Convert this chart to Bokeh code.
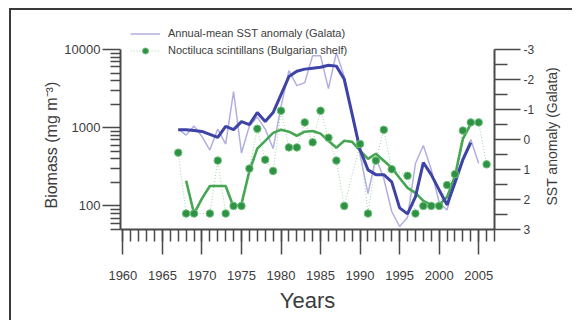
from bokeh.plotting import figure
from bokeh.layouts import row
from bokeh.models import (Range1d, LinearAxis, FixedTicker, Legend, LegendItem,
                          ColumnDataSource, PrintfTickFormatter, LinearScale, Title)
from bokeh.embed import file_html
from bokeh.resources import INLINE

nan = float("nan")

# ---- data ----
noc_years = list(range(1967, 2007))
noc_biomass = [480, 80, 80, nan, 80, 380, 80, 100, 100, 300,
               970, 390, 280, 1650, 560, 560, 1170, 650, 1650, 745,
               380, 100, nan, 620, 80, 380, 940, 295, nan, 243,
               80, 100, 100, 100, 185, 255, 920, 1170, 1170, 340]

noc_smooth_years = list(range(1968, 2006))
noc_smooth = [210, 80, 124, 180, 180, 180, 97, 106, 280, 540,
              680, 860, 940, 890, 790, 890, 910, 840, 680, 555,
              680, 660, 510, 400, 465, 378, 307, 228, 170, 147,
              116, 103, 103, 130, 240, 720, 1120, 1200]

sst_years = list(range(1967, 2006))
sst_anomaly = [-0.35, -0.15, -0.45, -0.10, 0.35, -0.35, 0.15, -1.60, 0.45, -0.45,
               -0.75, -0.35, 0.30, -1.10, -2.30, -1.80, -1.90, -2.80, -2.80, -1.70,
               -2.90, -2.10, -0.80, 0.50, 1.80, 0.60, 1.30, 2.40, 2.90, 2.60,
               0.80, 0.20, 1.00, 2.10, 2.35, 1.30, 0.60, 0.00, 0.80]

sst_smooth_years = list(range(1967, 2005))
sst_smooth = [-0.33, -0.33, -0.30, -0.27, -0.17, -0.07, -0.44, -0.33, -0.60, -0.50,
              -0.90, -0.60, -0.90, -1.50, -2.10, -2.28, -2.35, -2.38, -2.41, -2.48,
              -2.45, -2.01, -0.84, 0.34, 1.01, 1.17, 1.17, 1.41, 2.28, 2.48,
              1.91, 0.77, 1.17, 1.68, 2.18, 1.44, 0.67, 0.10]

x_major = [1960, 1965, 1970, 1975, 1980, 1985, 1990, 1995, 2000, 2005]
x_minor = list(range(1960, 2008))
left_major = [100, 1000, 10000]
left_minor = [50, 60, 70, 80, 90] + [k * 100 for k in range(2, 10)] + [k * 1000 for k in range(2, 10)]
right_major = [-3, -2, -1, 0, 1, 2, 3]
right_minor = [-2.5, -1.5, -0.5, 0.5, 1.5, 2.5]

FONT = "Liberation Sans"
TXT = "#3c3c3c"
AX = "#4a4a4a"

# main chart: frame spans a little above the axes' tops so the legend can sit there
fig = figure(width=529, height=310, output_backend="svg", toolbar_location=None,
             x_range=Range1d(1959.7, 2007.0), y_range=Range1d(50, 22130),
             y_axis_type="log",
             min_border_left=109, min_border_right=46, min_border_top=12, min_border_bottom=91)
fig.outline_line_color = None
fig.xgrid.visible = False
fig.ygrid.visible = False
fig.background_fill_color = "white"
fig.border_fill_color = "white"
fig.extra_y_ranges = {"sst": Range1d(3, -3.905)}
fig.extra_y_scales = {"sst": LinearScale()}

def style_axis(ax, major_out, minor_out, lab_size, standoff):
    ax.axis_line_color = AX
    ax.axis_line_width = 2
    ax.major_tick_line_color = AX
    ax.minor_tick_line_color = AX
    ax.major_tick_line_width = 1.5
    ax.minor_tick_line_width = 1.5
    ax.major_tick_in = 0
    ax.minor_tick_in = 0
    ax.major_tick_out = major_out
    ax.minor_tick_out = minor_out
    ax.major_label_text_font = FONT
    ax.major_label_text_font_size = lab_size
    ax.major_label_text_color = TXT
    ax.major_label_standoff = standoff
    ax.axis_label_text_font = FONT
    ax.axis_label_text_font_style = "normal"
    ax.axis_label_text_color = TXT

# bottom axis
xa = fig.xaxis[0]
xa.ticker = FixedTicker(ticks=x_major, minor_ticks=x_minor)
xa.formatter = PrintfTickFormatter(format="%d")
style_axis(xa, 25, 12, "13px", 16)
xa.axis_label = "Years"
xa.axis_label_text_font_size = "22px"
xa.axis_label_standoff = 5

# left axis
ya = fig.yaxis[0]
ya.ticker = FixedTicker(ticks=left_major, minor_ticks=left_minor)
ya.formatter = PrintfTickFormatter(format="%d")
ya.bounds = (50, 10000)
style_axis(ya, 18, 10, "13px", 2)

fig.add_layout(Title(text="Biomass (mg m\u207b\u00b3)", align="left", offset=21,
                     text_font=FONT, text_font_size="16px", text_font_style="normal",
                     text_color=TXT, standoff=4), "left")

# right axis
ra = LinearAxis(y_range_name="sst",
                ticker=FixedTicker(ticks=right_major, minor_ticks=right_minor),
                formatter=PrintfTickFormatter(format="%d"))
ra.bounds = (-3, 3)
style_axis(ra, 26, 13, "12px", 3)
fig.add_layout(ra, "right")

# ---- glyphs ----
src_sst = ColumnDataSource(dict(x=sst_years, y=sst_anomaly))
src_sst_s = ColumnDataSource(dict(x=sst_smooth_years, y=sst_smooth))
valid = [(yr, v) for yr, v in zip(noc_years, noc_biomass) if v == v]
src_noc_line = ColumnDataSource(dict(x=[a for a, _ in valid], y=[b for _, b in valid]))
src_noc = ColumnDataSource(dict(x=noc_years, y=noc_biomass))
src_noc_s = ColumnDataSource(dict(x=noc_smooth_years, y=noc_smooth))

r_raw = fig.line("x", "y", source=src_sst, y_range_name="sst",
                 line_color="#b2afe0", line_width=1.5)
r_dots_line = fig.line("x", "y", source=src_noc_line, line_color="#9ed39e",
                       line_width=1, line_dash="1 2")
r_noc_s = fig.line("x", "y", source=src_noc_s, line_color="#46a653", line_width=2.6)
r_sst_s = fig.line("x", "y", source=src_sst_s, y_range_name="sst",
                   line_color="#3e43a6", line_width=3)
r_pts = fig.scatter("x", "y", source=src_noc, size=7.5, fill_color="#2f9143",
                    line_color="#6cc07a", line_width=1)

legend = Legend(items=[LegendItem(label="Annual-mean SST anomaly (Galata)", renderers=[r_raw]),
                       LegendItem(label="Noctiluca scintillans (Bulgarian shelf)",
                                  renderers=[r_dots_line, r_pts])],
                location=(10, 171.5))
legend.label_text_font = FONT
legend.label_text_font_size = "11px"
legend.label_text_color = TXT
legend.glyph_width = 30
legend.glyph_height = 15
legend.label_height = 15
legend.label_standoff = 8
legend.spacing = 2
legend.padding = 0
legend.margin = 0
legend.border_line_color = None
legend.background_fill_alpha = 0
fig.add_layout(legend, "center")

# narrow strip to the right holding the right axis title (reads bottom to top)
side = figure(width=32, height=310, output_backend="svg", toolbar_location=None,
              x_axis_location=None, y_axis_location=None,
              min_border_left=20, min_border_right=0, min_border_top=12, min_border_bottom=91)
side.outline_line_color = None
side.grid.visible = False
side.background_fill_color = "white"
side.border_fill_color = "white"
side.add_layout(Title(text="SST anomaly (Galata)", align="left", offset=24,
                      text_font=FONT, text_font_size="14px", text_font_style="normal",
                      text_color=TXT, standoff=2), "left")

p = row(fig, side)
p.styles = {"margin-left": "9px", "margin-top": "8px",
            "border-top": "2px solid #3a3a3a", "border-left": "2px solid #3a3a3a"}

open("out.html", "w").write(file_html(p, INLINE))
